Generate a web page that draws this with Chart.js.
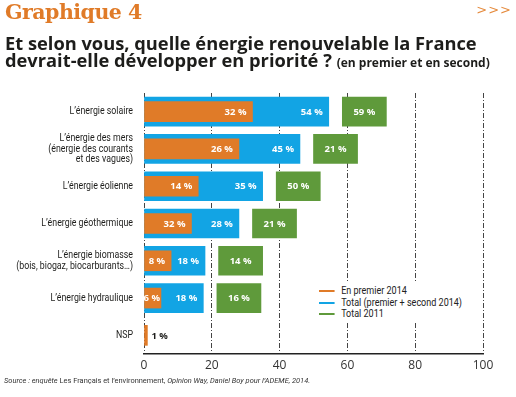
<!DOCTYPE html>
<html lang="fr">
<head>
<meta charset="utf-8">
<script src="https://cdn.jsdelivr.net/npm/chart.js@4.4.1/dist/chart.umd.min.js"></script>
<style>
  html, body { margin: 0; padding: 0; background: #fff; }
  #wrap { position: relative; width: 516px; height: 397px; overflow: hidden; }
  #chartBox { position: absolute; left: 0; top: 0; width: 516px; height: 397px; }
  .txt { position: absolute; white-space: nowrap; color: #1d1d1b; }
  #kicker { left: 5px; top: 0px; font: bold 20.5px "DejaVu Serif"; color: #e07b28; letter-spacing: -0.5px; }
  #arrows { right: 4px; top: 2px; font: 13px "DejaVu Sans"; color: #e58a3c; letter-spacing: 1px; }
  #q1 { left: 5px; top: 34px; font: bold 18.3px "Open Sans"; line-height: 17px; }
  #q1 small { font-size: 12px; }
  #legendBox { position: absolute; left: 312px; top: 283px; width: 152px; height: 40px; background: #fff; }
  #legend { left: 319px; top: 285px; font: 11px Roboto; color: #222; transform: scaleX(0.82); transform-origin: 0 0; }
  #legend div { height: 11.7px; line-height: 11.7px; }
  #legend span { display: inline-block; width: 19px; height: 2px; vertical-align: middle; margin-right: 8px; }
  #source { left: 4px; top: 376px; font: 8px Roboto; color: #333; transform: scaleX(0.93); transform-origin: 0 0; }
</style>
</head>
<body>
<div id="wrap">
  <div id="chartBox"><canvas id="myChart"></canvas></div>
  <div id="legendBox"></div>
  <div class="txt" id="kicker">Graphique 4</div>
  <div class="txt" id="arrows">&gt;&gt;&gt;</div>
  <div class="txt" id="q1">Et selon vous, quelle énergie renouvelable la France<br>devrait-elle développer en priorité ? <small>(en premier et en second)</small></div>
  <div class="txt" id="legend"></div>
  <div class="txt" id="source"><i>Source : enquête</i> Les Français et l’environnement, <i>Opinion Way, Daniel Boy pour l’ADEME, 2014.</i></div>
</div>
<script>
// categories (multi-line labels)
const categories = [
    ["L’énergie solaire"],
    ["L’énergie des mers", "(énergie des courants", "et des vagues)"],
    ["L’énergie éolienne"],
    ["L’énergie géothermique"],
    ["L’énergie biomasse", "(bois, biogaz, biocarburants…)"],
    ["L’énergie hydraulique"],
    ["NSP"]
];

const seriesNames = ["En premier 2014", "Total (premier + second 2014)", "Total 2011"];

// bar lengths as drawn in the picture
const firstValues = [32, 28, 16, 14, 8, 5, 1];
const totalValues = [54.5, 46, 35, 28, 18, 17.5, null];
// values printed on the bars
const firstLabels = ["32 %", "26 %", "14 %", "32 %", "8 %", "6 %", "1 %"];
const totalLabels = ["54 %", "45 %", "35 %", "28 %", "18 %", "18 %", ""];
const total2011 = [59, 21, 50, 21, 14, 16, null];

const xTicks = [0, 20, 40, 60, 80, 100];

const colors = ["#e07b28", "#12a4e4", "#5f9a3b"];

// the 2011 boxes sit just after the blue bar
const GAP = 4, BOX = 13;
const greenBars = total2011.map((v, i) => v == null ? null : [totalValues[i] + GAP, totalValues[i] + GAP + BOX]);

// html legend
const legendEl = document.getElementById("legend");
seriesNames.forEach((name, i) => {
    legendEl.innerHTML += '<div><span style="background:' + colors[i] + '"></span>' + name + '</div>';
});

// values written on the bars
const barLabels = {
    id: "barLabels",
    afterDatasetsDraw(chart) {
        const ctx = chart.ctx;
        ctx.save();
        ctx.font = 'bold 9.5px "Open Sans"';
        ctx.textBaseline = "middle";
        chart.data.datasets.forEach((ds, di) => {
            const meta = chart.getDatasetMeta(di);
            meta.data.forEach((bar, i) => {
                if (ds.data[i] == null) return;
                let text;
                if (di === 0) text = firstLabels[i];
                else if (di === 1) text = totalLabels[i];
                else text = total2011[i] + " %";
                if (!text) return;
                const w = ctx.measureText(text).width;
                if (di === 2) {
                    ctx.fillStyle = "#fff";
                    ctx.textAlign = "center";
                    ctx.fillText(text, (bar.x + bar.base) / 2, bar.y + 0.5);
                } else if (di === 0 && totalValues[i] == null) {
                    // NSP: label outside, dark
                    ctx.fillStyle = "#1d1d1b";
                    ctx.textAlign = "left";
                    ctx.fillText(text, bar.x + 4, bar.y + 0.5);
                } else {
                    ctx.fillStyle = "#fff";
                    ctx.textAlign = "right";
                    const right = Math.max(bar.x - 6, bar.base + w - 1);
                    ctx.fillText(text, right, bar.y + 0.5);
                }
            });
        });
        ctx.restore();
    }
};

// category names, drawn narrow like the original condensed font
const categoryLabels = {
    id: "categoryLabels",
    afterDraw(chart) {
        const ctx = chart.ctx;
        const yScale = chart.scales.y;
        const right = yScale.right - 11;
        const lh = 10.4;
        ctx.save();
        ctx.font = "11px Roboto";
        ctx.fillStyle = "#1d1d1b";
        ctx.textAlign = "right";
        ctx.textBaseline = "middle";
        categories.forEach((lines, i) => {
            const y = yScale.getPixelForTick(i);
            const top = y - (lines.length - 1) * lh / 2;
            lines.forEach((line, k) => {
                ctx.save();
                ctx.translate(right, top + k * lh);
                ctx.scale(0.8, 1);
                ctx.fillText(line, 0, 0);
                ctx.restore();
            });
        });
        ctx.restore();
    }
};

const ctx = document.getElementById("myChart").getContext("2d");
window.myChart = new Chart(ctx, {
    type: "bar",
    data: {
        labels: categories,
        datasets: [
            { label: seriesNames[0], data: firstValues, backgroundColor: colors[0], barThickness: 20, grouped: false },
            { label: seriesNames[1], data: totalValues, backgroundColor: colors[1], barThickness: 29, grouped: false },
            { label: seriesNames[2], data: greenBars, backgroundColor: colors[2], barThickness: 29, grouped: false }
        ]
    },
    options: {
        indexAxis: "y",
        responsive: true,
        maintainAspectRatio: false,
        animation: false,
        layout: { padding: { top: 93, right: 33, bottom: 0, left: 0 } },
        plugins: {
            legend: { display: false },
            tooltip: { enabled: false }
        },
        scales: {
            x: {
                min: 0,
                max: 100,
                afterBuildTicks: (scale) => { scale.ticks = xTicks.map(v => ({ value: v })); },
                afterFit: (scale) => { scale.height = 43; },
                ticks: { color: "#333", padding: 4, font: { family: "Open Sans", size: 12 } },
                grid: { color: "#444", lineWidth: 1, drawTicks: false },
                border: { display: true, color: "#222", width: 1.5, dash: [5, 2, 1, 2] }
            },
            y: {
                afterFit: (scale) => { scale.width = 144; },
                ticks: { display: false },
                grid: { display: false },
                border: { display: false }
            }
        }
    },
    plugins: [barLabels, categoryLabels]
});
</script>
</body>
</html>
